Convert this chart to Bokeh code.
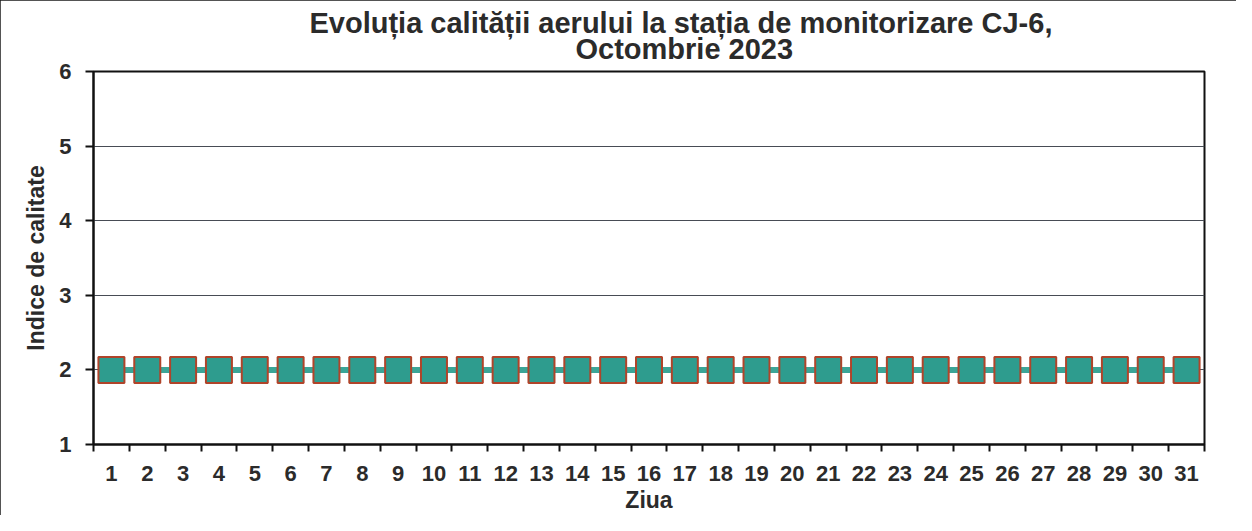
from bokeh.plotting import figure
from bokeh.models import FixedTicker, Range1d, Title
from bokeh.embed import file_html
from bokeh.resources import INLINE

days = [1, 2, 3, 4, 5, 6, 7, 8, 9, 10, 11, 12, 13, 14, 15, 16,
        17, 18, 19, 20, 21, 22, 23, 24, 25, 26, 27, 28, 29, 30, 31]
quality_index = [2, 2, 2, 2, 2, 2, 2, 2, 2, 2, 2, 2, 2, 2, 2, 2,
                 2, 2, 2, 2, 2, 2, 2, 2, 2, 2, 2, 2, 2, 2, 2]
y_ticks = [1, 2, 3, 4, 5, 6]
title_line1 = "Evoluția calității aerului la stația de monitorizare CJ-6,"
title_line2 = "Octombrie 2023"
x_label = "Ziua"
y_label = "Indice de calitate"

FONT = "Liberation Sans"
TXT = "#2b2b2b"

p = figure(width=1236, height=515, output_backend="svg", toolbar_location=None,
           x_range=Range1d(0.5, 31.5), y_range=Range1d(1, 6),
           min_border_left=93, min_border_right=32, min_border_top=71,
           min_border_bottom=69)
p.styles = {"outline": "2px solid #1a1a1a", "outline-offset": "-2px"}

p.outline_line_color = "#111111"
p.outline_line_width = 2
p.xgrid.grid_line_color = None
p.ygrid.grid_line_color = "#474c55"
p.ygrid.grid_line_width = 1

# x axis: labels at day centres, ticks at day boundaries
p.xaxis.ticker = FixedTicker(ticks=days,
                             minor_ticks=[d - 0.5 for d in days] + [days[-1] + 0.5])
p.xaxis.major_tick_out = 0
p.xaxis.major_tick_in = 0
p.xaxis.minor_tick_out = 7
p.xaxis.minor_tick_in = 0
p.xaxis.minor_tick_line_color = "#111111"
p.xaxis.minor_tick_line_width = 2
p.xaxis.major_label_standoff = 14
p.xaxis.axis_label = x_label
p.xaxis.axis_label_standoff = 3

p.yaxis.ticker = FixedTicker(ticks=y_ticks)
p.yaxis.major_tick_out = 8
p.yaxis.major_tick_in = 0
p.yaxis.minor_tick_line_color = None
p.yaxis.major_label_standoff = 14
p.yaxis.axis_label = y_label
p.yaxis.axis_label_standoff = 7

for ax in (p.xaxis[0], p.yaxis[0]):
    ax.axis_line_color = "#111111"
    ax.axis_line_width = 2
    ax.major_tick_line_color = "#111111"
    ax.major_tick_line_width = 2
    ax.major_label_text_font = FONT
    ax.major_label_text_font_style = "bold"
    ax.major_label_text_font_size = "22px"
    ax.major_label_text_color = TXT
    ax.axis_label_text_font = FONT
    ax.axis_label_text_font_style = "bold"
    ax.axis_label_text_font_size = "23px"
    ax.axis_label_text_color = TXT

p.line(days, quality_index, line_color="#3aa597", line_width=6)
p.scatter(days, quality_index, marker="square", size=26,
          fill_color="#2e9c8e", line_color="#b0442a", line_width=2)

# title: two lines, inner one added first
p.add_layout(Title(text=title_line2, align="left", offset=482, vertical_align="top",
                   standoff=10, text_font=FONT, text_font_style="bold",
                   text_font_size="29px", text_color=TXT), "above")
p.add_layout(Title(text=title_line1, align="left", offset=216, vertical_align="bottom",
                   standoff=-22, text_font=FONT, text_font_style="bold",
                   text_font_size="29px", text_color=TXT), "above")

open("out.html", "w").write(file_html(p, INLINE))
